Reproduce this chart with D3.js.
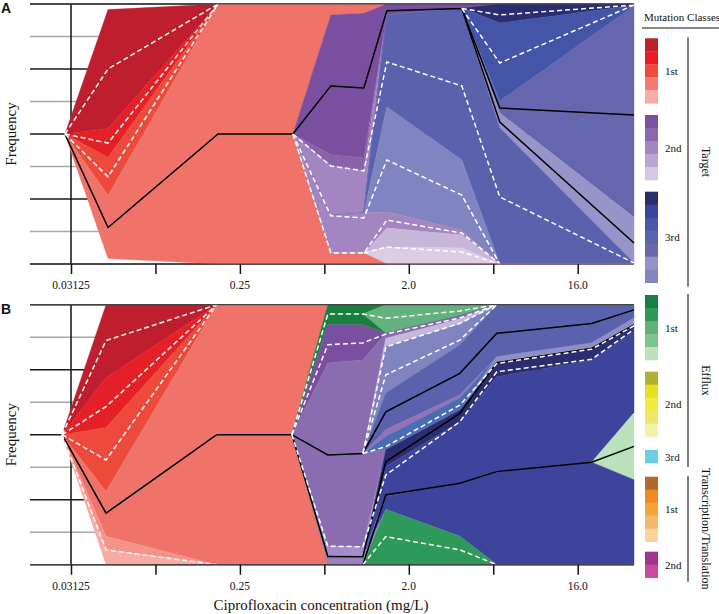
<!DOCTYPE html>
<html><head><meta charset="utf-8">
<script src="https://cdn.jsdelivr.net/npm/d3@7"></script>
<style>body{margin:0;background:#fff}svg{display:block}</style>
</head><body>
<svg id="c" width="719" height="614"></svg>
<script>
// ---------------- DATA ----------------
// concentrations (mg/L) of the sampled steps
const concA = [0.029, 0.0493, 0.191, 0.48, 0.766, 1.15, 1.526, 3.84, 6.13, 32];
const concB = [0.028, 0.0481, 0.188, 0.474, 0.738, 1.136, 1.507, 3.75, 5.91, 19.0, 32];

// axis ticks
const tickValues = [0.03125, 0.0884, 0.25, 0.7071, 2, 5.657, 16];
const tickLabels = ["0.03125", "", "0.25", "", "2.0", "", "16.0"];
const gridValues = [0, 12.5, 25, 37.5, 50, 62.5, 75, 87.5, 100];

// Panel A genotype frequencies (%), listed top to bottom
const A_darkRed    = [0, 45.7, 0, 0, 0, 0, 0, 0, 0, 0];
const A_brightRed  = [0, 11.2, 0, 0, 0, 0, 0, 0, 0, 0];
const A_redOrange  = [0, 14.6, 0, 0, 0, 0, 0, 0, 0, 0];
const A_salmonTop  = [0, 12.7, 50, 50, 4.2, 3.6, 0, 0, 0, 0];
const A_darkPurple = [0, 0, 0, 0, 53.8, 55.6, 4.2, 1.5, 0, 0];
const A_medPurple  = [0, 0, 0, 0, 4.2, 5.0, 0, 0, 0, 0];
const A_lavenderA  = [0, 0, 0, 0, 19.2, 16.2, 0, 0, 0, 0];
const A_navy       = [0, 0, 0, 0, 0, 0, 0, 0, 7.3, 0.6];
const A_blue3      = [0, 0, 0, 0, 0, 0, 0, 0, 30.0, 0.2];
const A_blue4      = [0, 0, 0, 0, 0, 0, 0, 0, 4.6, 81.2];
const A_lightBand  = [0, 0, 0, 0, 0, 0, 0, 0, 5.8, 17.6];
const A_blue       = [0, 0, 0, 0, 0, 0, 35.4, 58.5, 52.3, 0.4];
const A_blueLav    = [0, 0, 0, 0, 0, 0, 40.4, 26.9, 0, 0];
const A_lavenderB  = [0, 0, 0, 0, 14.4, 15.4, 6.2, 1.9, 0, 0];
const A_lilac      = [0, 0, 0, 0, 0, 0, 7.3, 5.0, 0, 0];
const A_veryLight  = [0, 0, 0, 0, 0, 0, 6.5, 6.2, 0, 0];
const A_salmonBot  = [0, 11.5, 50, 50, 4.2, 4.2, 0, 0, 0, 0];

// Panel A lineage outlines (position from top, %)
const A_black1 = [50, 86.0, 50, 50, 31.5, 32.3, 2.6, 1.7, 40.0, 42.7];
const A_black2 = [null, null, null, null, null, null, null, 1.7, 45.4, 91.9];
const A_dash1 = [50, 25.0, 0, null, null, null, null, null, null, null];
const A_dash2 = [50, 53.5, 0, null, null, null, null, null, null, null];
const A_dash3 = [50, 66.5, 0, null, null, null, null, null, null, null];
const A_dash4 = [null, null, null, 50, 62.3, 64.2, 22.3, 31.5, 74.2, 99.6];
const A_dash5 = [null, null, null, 50, 81.5, 82.3, 60.0, 73.5, 100, null];
const A_dash6 = [null, null, null, 50, 95.8, 95.8, 83.1, 88.1, 100, null];
const A_dash7 = [null, null, null, null, null, 95.8, 93.5, 95.4, 100, null];
const A_dash8 = [null, null, null, null, null, null, null, 1.7, 4.2, 0.4];
const A_dash9 = [null, null, null, null, null, null, null, 1.7, 22.7, 0.4];

// Panel B genotype frequencies (%), listed top to bottom
const B_darkRed      = [0, 28.1, 0, 0, 0, 0, 0, 0, 0, 0, 0];
const B_brightRed    = [0, 19.2, 0, 0, 0, 0, 0, 0, 0, 0, 0];
const B_redOrange    = [0, 24.5, 0, 0, 0, 0, 0, 0, 0, 0, 0];
const B_salmonTop    = [0, 8.3, 50, 50, 0, 0, 0, 0, 0, 0, 0];
const B_darkGreenTop = [0, 0, 0, 0, 3.6, 3.6, 0, 0, 0, 0, 0];
const B_medGreen     = [0, 0, 0, 0, 0, 0, 11.0, 4.3, 0, 0, 0];
const B_darkGreenBot = [0, 0, 0, 0, 4.1, 4.1, 0, 0, 0, 0, 0];
const B_darkPurple   = [0, 0, 0, 0, 14.7, 13.6, 0, 0, 0, 0, 0];
const B_bigPurpleA   = [0, 0, 0, 0, 35.0, 36.1, 1.9, 1.2, 0, 0, 0];
const B_lightLilac   = [0, 0, 0, 0, 0, 0, 3.2, 1.9, 0, 0, 0];
const B_blueLav      = [0, 0, 0, 0, 0, 0, 17.9, 8.1, 0, 0, 0];
const B_blue         = [0, 0, 0, 0, 0, 0, 14.1, 19.2, 20.0, 14.7, 5.1];
const B_purpleStrip  = [0, 0, 0, 0, 0, 0, 2.6, 1.2, 0, 0, 0];
const B_medBlue      = [0, 0, 0, 0, 0, 0, 5.1, 4.6, 0, 0, 0];
const B_lightBand    = [0, 0, 0, 0, 0, 0, 0, 0, 2.3, 2.0, 3.3];
const B_bigPurpleB   = [0, 0, 0, 0, 35.5, 35.7, 0, 0, 0, 0, 0];
const B_lilac        = [0, 0, 0, 0, 3.8, 3.8, 0, 0, 0, 0, 0];
const B_navy         = [0, 0, 0, 0, 0, 0, 6.4, 4.6, 5.4, 4.8, 1.9];
const B_darkBlueA    = [0, 0, 0, 0, 0, 0, 11.5, 23.6, 36.7, 39.1, 31.3];
const B_paleGreen    = [0, 0, 0, 0, 0, 0, 0, 0, 0, 0, 25.7];
const B_darkBlueB    = [0, 0, 0, 0, 0, 0, 5.1, 20.4, 35.6, 39.4, 32.7];
const B_purpleBottom = [0, 0, 0, 0, 3.3, 3.1, 0, 0, 0, 0, 0];
const B_green        = [0, 0, 0, 0, 0, 0, 21.2, 10.9, 0, 0, 0];
const B_salmonBot    = [0, 9.0, 50, 50, 0, 0, 0, 0, 0, 0, 0];
const B_salmonLight  = [0, 5.1, 0, 0, 0, 0, 0, 0, 0, 0, 0];
const B_pink         = [0, 5.8, 0, 0, 0, 0, 0, 0, 0, 0, 0];

// Panel B lineage outlines (position from top, %)
const B_black1 = [50, 80.2, 50, 50, 57.8, 57.2, 41.2, 26.4, 11.0, 7.2, 2.0];
const B_black2 = [null, null, null, 50, 96.8, 96.9, 60.4, 41.8, 22.3, 16.8, 7.8];
const B_black3 = [null, null, null, null, null, 100, 73.2, 68.7, 64.2, 60.6, 54.5];
const B_dash1  = [50, 13.8, 0, null, null, null, null, null, null, null, null];
const B_dash2  = [50, 39.2, 0, null, null, null, null, null, null, null, null];
const B_dash3  = [50, 59.7, 0, null, null, null, null, null, null, null, null];
const B_dash4  = [50, 94.3, 100, null, null, null, null, null, null, null, null];
const B_dash5  = [null, null, null, 50, 15.4, 14.7, 11.3, 5.1, 0, null, null];
const B_dash6  = [null, null, null, 50, 3.6, 3.6, 5.2, 2.4, 0, null, null];
const B_dash7  = [null, null, null, null, null, 57.2, 16.2, 7.2, 0, null, null];
const B_dash8  = [null, null, null, null, null, 57.2, 27.0, 13.6, 0, null, null];
const B_dash9  = [null, null, null, null, null, 57.2, 54.6, 38.6, 22.6, 17.1, 8.1];
const B_dash10 = [null, null, null, 50, 92.9, 93.1, 65.5, 45.0, 25.8, 21.0, 9.5];
const B_dash11 = [null, null, null, null, null, 100, 89.2, 94.3, 100, null, null];

// legend
const legendTitle = "Mutation Classes";
const legendOrders = ["1st", "2nd", "3rd", "1st", "2nd", "3rd", "1st", "2nd"];
const legendCounts = [5, 5, 7, 5, 5, 1, 5, 2];
const legendClasses = ["Target", "Efflux", "Transcription/Translation"];
const legendClassGroups = [3, 3, 2];

// ---------------- STYLES ----------------
const C = {
  darkRed:"#be1e2d", brightRed:"#e62027", redOrange:"#ee4a3b", salmon:"#f0736a",
  darkPurple:"#7a4f9f", medPurple:"#8b62aa", lavender:"#a385c1", bigPurple:"#8a6db0",
  navy:"#2b2d72", blue3:"#4454a6", blue4:"#6566ad", lightBand:"#9694c9",
  blue:"#5a62ae", blueLav:"#8084c0", lilac:"#c8b6da", veryLight:"#dccde7",
  darkGreen:"#18803f", medGreen:"#63b17f", lightLilac:"#c6b7dd", purpleStrip:"#9572b6",
  medBlue:"#4a6cb5", lightBandB:"#8e8fc7", lilacB:"#a48ccb", darkBlue:"#3d449b",
  paleGreen:"#bce2bd", purpleBottom:"#9c80c1", green:"#2e9a59",
  salmonLight:"#f4938a", pink:"#f8aaa4"
};
const layersA = [
  ["darkRed",A_darkRed,C.darkRed],["brightRed",A_brightRed,C.brightRed],["redOrange",A_redOrange,C.redOrange],
  ["salmonTop",A_salmonTop,C.salmon],["darkPurple",A_darkPurple,C.darkPurple],["medPurple",A_medPurple,C.medPurple],
  ["lavenderA",A_lavenderA,C.lavender],["navy",A_navy,C.navy],["blue3",A_blue3,C.blue3],["blue4",A_blue4,C.blue4],
  ["lightBand",A_lightBand,C.lightBand],["blue",A_blue,C.blue],["blueLav",A_blueLav,C.blueLav],
  ["lavenderB",A_lavenderB,C.lavender],["lilac",A_lilac,C.lilac],["veryLight",A_veryLight,C.veryLight],
  ["salmonBot",A_salmonBot,C.salmon]
];
const layersB = [
  ["darkRed",B_darkRed,C.darkRed],["brightRed",B_brightRed,C.brightRed],["redOrange",B_redOrange,C.redOrange],
  ["salmonTop",B_salmonTop,C.salmon],["darkGreenTop",B_darkGreenTop,C.darkGreen],["medGreen",B_medGreen,C.medGreen],
  ["darkGreenBot",B_darkGreenBot,C.darkGreen],["darkPurple",B_darkPurple,C.darkPurple],["bigPurpleA",B_bigPurpleA,C.bigPurple],
  ["lightLilac",B_lightLilac,C.lightLilac],["blueLav",B_blueLav,C.blueLav],["blue",B_blue,C.blue],
  ["purpleStrip",B_purpleStrip,C.purpleStrip],["medBlue",B_medBlue,C.medBlue],["lightBand",B_lightBand,C.lightBandB],
  ["bigPurpleB",B_bigPurpleB,C.bigPurple],["lilac",B_lilac,C.lilacB],["navy",B_navy,C.navy],
  ["darkBlueA",B_darkBlueA,C.darkBlue],["paleGreen",B_paleGreen,C.paleGreen],["darkBlueB",B_darkBlueB,C.darkBlue],
  ["purpleBottom",B_purpleBottom,C.purpleBottom],["green",B_green,C.green],["salmonBot",B_salmonBot,C.salmon],
  ["salmonLight",B_salmonLight,C.salmonLight],["pink",B_pink,C.pink]
];
const blackA = [A_black1, A_black2];
const dashA = [A_dash1, A_dash2, A_dash3, A_dash4, A_dash5, A_dash6, A_dash7, A_dash8, A_dash9];
const blackB = [B_black1, B_black2, B_black3];
const dashB = [B_dash1, B_dash2, B_dash3, B_dash4, B_dash5, B_dash6, B_dash7, B_dash8, B_dash9, B_dash10, B_dash11];
const legendColors = [
  ["#be1e2d","#ec1c24","#ef4b3c","#f37b70","#f9aca6"],
  ["#7a52a0","#8b68ae","#a285c1","#baa4d1","#d5c7e4"],
  ["#2b2b6f","#3a43a0","#4a56a6","#5b63ae","#6a67ae","#9591c8","#8186c1"],
  ["#177f41","#2e9957","#62af7c","#7dc58d","#bde2bd"],
  ["#adb030","#e6e020","#f1ea40","#ede86c","#f3f1a4"],
  ["#6acfe6"],
  ["#b06a2c","#ee8a22","#f4a53a","#f5b86a","#fbd39c"],
  ["#a2338f","#c94aa0"]
];
const legendTops = [38.3, 115, 191.7, 295, 371.7, 450, 476.7, 551.7];

// ---------------- DRAW ----------------
const svg = d3.select("#c");
const serif = "'Liberation Serif','Times New Roman',serif";
const x = d3.scaleLog().base(2).domain([0.03125, 32]).range([71, 634]);

function panel(conc, layers, blacks, dashes, top, bottom, letter) {
  const y = d3.scaleLinear().domain([-50, 50]).range([top, bottom]);
  const g = svg.append("g");
  // gridlines
  g.selectAll("line.grid").data(gridValues).join("line")
    .attr("x1", 30).attr("x2", 634)
    .attr("y1", d => y(d - 50)).attr("y2", d => y(d - 50))
    .attr("stroke", (d, i) => i % 2 === 0 ? "#1a1a1a" : "#a8a8a8")
    .attr("stroke-width", 1.5);
  g.append("line").attr("x1", x(0.03125)).attr("x2", x(0.03125))
    .attr("y1", top).attr("y2", bottom).attr("stroke", "#111").attr("stroke-width", 1.5);

  // stacked areas
  const keys = layers.map(l => l[0]);
  const rows = conc.map((c, i) => {
    const r = {};
    layers.forEach(l => r[l[0]] = l[1][i]);
    return r;
  });
  const series = d3.stack().keys(keys).offset(d3.stackOffsetSilhouette)(rows);
  const area = d3.area().x((d, i) => x(conc[i])).y0(d => y(d[0])).y1(d => y(d[1]));
  g.selectAll("path.layer").data(series).join("path")
    .attr("d", area)
    .attr("fill", (d, i) => layers[i][2])
    .attr("stroke", (d, i) => layers[i][2])
    .attr("stroke-width", 0.4)
    .attr("stroke-linejoin", "round");

  // lineage lines
  const line = d3.line().defined(d => d != null)
    .x((d, i) => x(conc[i])).y(d => y(d - 50));
  const lineIdx = arr => arr.map((v, i) => v);
  g.selectAll("path.black").data(blacks).join("path")
    .attr("d", d => d3.line().defined(v => v != null).x((v, i) => x(conc[i])).y(v => y(v - 50))(d))
    .attr("fill", "none").attr("stroke", "#000").attr("stroke-width", 1.5);
  g.selectAll("path.dash").data(dashes).join("path")
    .attr("d", d => d3.line().defined(v => v != null).x((v, i) => x(conc[i])).y(v => y(v - 50))(d))
    .attr("fill", "none").attr("stroke", "#fff").attr("stroke-width", 1.5)
    .attr("stroke-dasharray", "5,3");

  // frame top / bottom
  g.append("line").attr("x1", 30).attr("x2", 634).attr("y1", top).attr("y2", top)
    .attr("stroke", "#444").attr("stroke-width", 1.2);
  g.append("line").attr("x1", 30).attr("x2", 634).attr("y1", bottom).attr("y2", bottom)
    .attr("stroke", "#444").attr("stroke-width", 1.2);

  // x axis
  const ax = g.append("g").attr("transform", `translate(0,${bottom})`)
    .call(d3.axisBottom(x).tickValues(tickValues).tickSize(10).tickFormat(""));
  ax.select(".domain").remove();
  ax.selectAll(".tick line").attr("stroke", "#111").attr("stroke-width", 1.5);
  g.selectAll("text.tl").data(tickValues).join("text")
    .attr("x", d => x(d)).attr("y", bottom + 25)
    .attr("text-anchor", "middle").attr("font-family", serif).attr("font-size", 11.5)
    .attr("fill", "#111")
    .text((d, i) => tickLabels[i]);

  // y label
  g.append("text").attr("transform", `translate(16,${(top + bottom) / 2}) rotate(-90)`)
    .attr("text-anchor", "middle").attr("font-family", serif).attr("font-size", 15)
    .attr("fill", "#111").text("Frequency");
  // panel letter
  g.append("text").attr("x", 1).attr("y", top + 9)
    .attr("font-family", "'Liberation Sans',Arial,sans-serif").attr("font-weight", "bold")
    .attr("font-size", 14).attr("fill", "#111").text(letter);
}

panel(concA, layersA, blackA, dashA, 4, 264, "A");
panel(concB, layersB, blackB, dashB, 304.7, 564.7, "B");

svg.append("text").attr("x", 321).attr("y", 610).attr("text-anchor", "middle")
  .attr("font-family", serif).attr("font-size", 15).attr("fill", "#111")
  .text("Ciprofloxacin concentration (mg/L)");

// legend
const lg = svg.append("g");
lg.append("text").attr("x", 644).attr("y", 21).attr("font-family", serif)
  .attr("font-size", 11).attr("fill", "#111").text(legendTitle);
lg.append("line").attr("x1", 642).attr("x2", 719).attr("y1", 28).attr("y2", 28)
  .attr("stroke", "#111").attr("stroke-width", 1.2);
const sw = 13;
legendColors.forEach((cols, gi) => {
  const t0 = legendTops[gi];
  lg.selectAll(null).data(cols).join("rect")
    .attr("x", 645).attr("y", (d, i) => t0 + i * sw)
    .attr("width", 13).attr("height", sw + 0.3).attr("fill", d => d);
  lg.append("text").attr("x", 665).attr("y", t0 + legendCounts[gi] * sw / 2 + 4)
    .attr("font-family", serif).attr("font-size", 11).attr("fill", "#111")
    .text(legendOrders[gi]);
});
let gStart = 0;
legendClasses.forEach((name, ci) => {
  const first = gStart, last = gStart + legendClassGroups[ci] - 1;
  gStart += legendClassGroups[ci];
  const y0 = legendTops[first] - 1;
  const y1 = legendTops[last] + legendCounts[last] * sw + 4;
  lg.append("line").attr("x1", 688).attr("x2", 688).attr("y1", y0).attr("y2", y1)
    .attr("stroke", "#555").attr("stroke-width", 1.5);
  lg.append("text").attr("transform", `translate(702,${(y0 + y1) / 2}) rotate(90)`)
    .attr("text-anchor", "middle").attr("font-family", serif).attr("font-size", 12)
    .attr("fill", "#111").text(name);
});
</script>
</body></html>
